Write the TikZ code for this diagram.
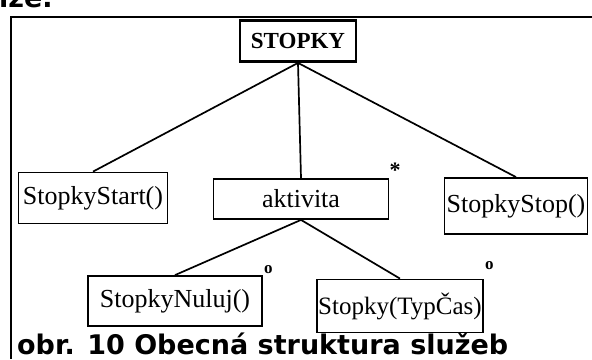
\documentclass[tikz,border=0pt]{standalone}
\usepackage{fontspec}
\setmainfont{Liberation Serif}
\newfontfamily\popisfont{DejaVu Sans}
\usepackage{tikz}

\begin{document}
\begin{tikzpicture} [
    x=1pt, y=-1pt,                 % souradnice v bodech, osa y dolu
    ]
% ------------------------------------------------- 
\tikzset{
  base/.style={draw, rectangle, align=center, inner sep=0pt},
  rect/.style={base, line width=1.8pt, font=\fontsize{26}{30}\selectfont},
  koren/.style={base, line width=2.8pt, font=\fontsize{23}{27}\selectfont\bfseries},
  znak/.style={inner sep=0pt, font=\fontsize{17}{17}\selectfont\bfseries},
  popis/.style={anchor=base west, inner sep=0pt, font=\popisfont\bfseries\fontsize{27}{30}\selectfont},
  line/.style={draw, line width=1.7pt},
}
    \useasboundingbox (0,0) rectangle (592,359);
    \draw [line width=2.2pt] (592,17) -- (11,17) -- (11,359);
    \node [popis] (konec) at (-1,7) {ize.};

    \node [koren, minimum width=116pt, minimum height=41pt] (stopky) at (298,41) {STOPKY};

    \node [rect, minimum width=149pt, minimum height=51pt] (start) at (93,198) {StopkyStart()};
    \node [rect, minimum width=175pt, minimum height=40pt,
           label={[znak, anchor=south west, font=\fontsize{22}{22}\selectfont\bfseries]north east:*}] (aktiv) at (301,199) {aktivita};
    \node [rect, minimum width=143pt, minimum height=56pt] (stop) at (516,206) {StopkyStop()};

    \node [rect, minimum width=174pt, minimum height=50pt,
           label={[znak, anchor=base west, xshift=1pt, yshift=2pt]north east:o}] (nuluj) at (175,301) {StopkyNuluj()};
    \node [rect, minimum width=166pt, minimum height=53pt, font=\fontsize{25}{29}\selectfont,
           label={[znak, anchor=base west, xshift=1pt, yshift=9pt]north east:o}] (typcas) at (400,306) {Stopky(TypČas)};

    \node [popis] (obr) at (17,354) {obr. 10 Obecná struktura služeb};

    \path [line] (stopky.south) -- (start.north);
    \path [line] (stopky.south) -- (aktiv.north);
    \path [line] (stopky.south) -- (stop.north);
    \path [line] (aktiv.south) -- (nuluj.north);
    \path [line] (aktiv.south) -- (typcas.north);

\end{tikzpicture}
\end{document}
